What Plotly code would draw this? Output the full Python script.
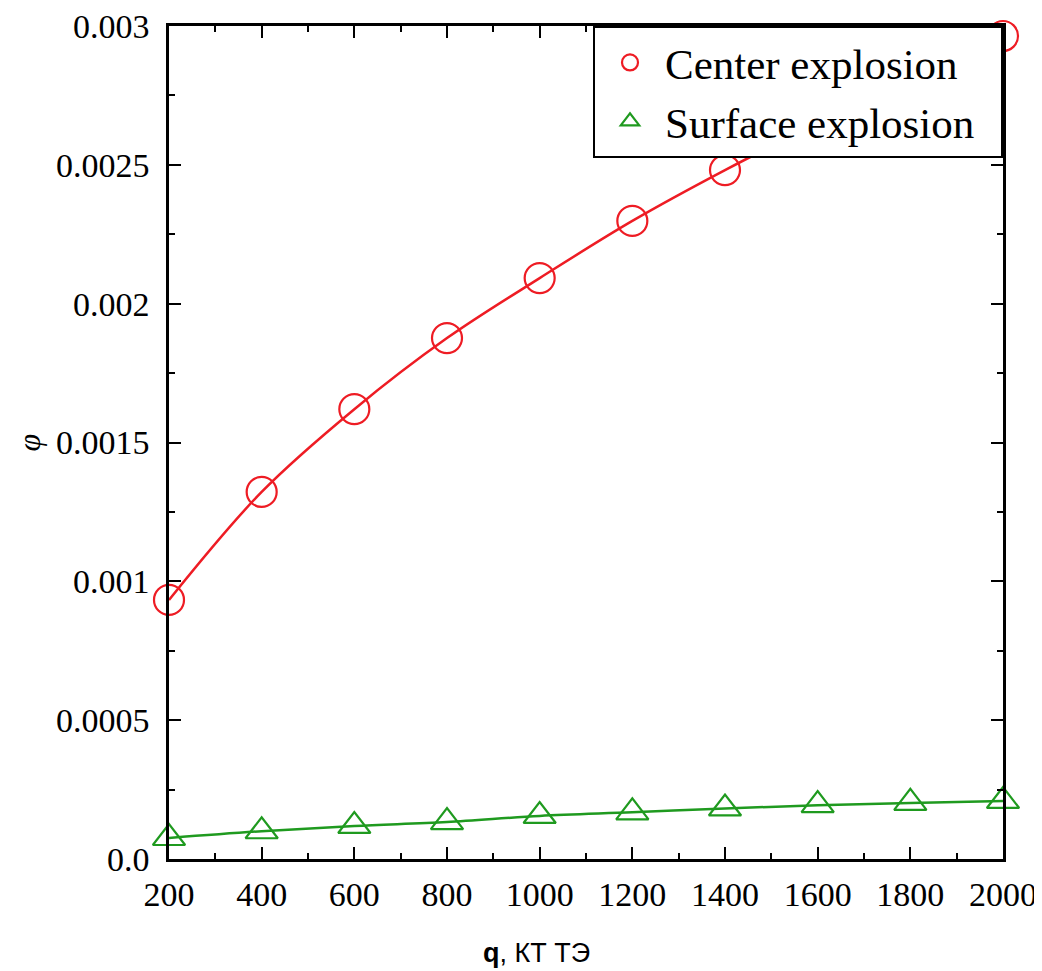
import plotly.graph_objects as go

q = [200, 400, 600, 800, 1000, 1200, 1400, 1600, 1800, 2000]
center = [0.000933, 0.001322, 0.00162, 0.001876, 0.002092, 0.002298, 0.002481, 0.00265, 0.00281, 0.002964]
surface = [0.0000756, 0.0001, 0.000119, 0.000133, 0.000155, 0.000168, 0.000182, 0.000194, 0.000202, 0.000209]

x_ticks = [200, 400, 600, 800, 1000, 1200, 1400, 1600, 1800, 2000]
y_ticks = [0, 0.0005, 0.001, 0.0015, 0.002, 0.0025, 0.003]
y_ticktext = ["0.0", "0.0005", "0.001", "0.0015", "0.002", "0.0025", "0.003"]
series_names = ["Center explosion", "Surface explosion"]

RED = "#ee1c24"
GREEN = "#1f9a1f"
SERIF = "Liberation Serif"

fig = go.Figure()
# smooth lines (no legend entry)
fig.add_trace(go.Scatter(
    x=q, y=center, mode="lines", showlegend=False, hoverinfo="skip",
    line=dict(color=RED, width=2.5, shape="spline"),
))
fig.add_trace(go.Scatter(
    x=q, y=surface, mode="lines", showlegend=False, hoverinfo="skip",
    line=dict(color=GREEN, width=2.5, shape="spline"),
))
# markers (legend entries)
fig.add_trace(go.Scatter(
    x=q, y=center, name=series_names[0], mode="markers",
    marker=dict(symbol="circle-open", size=30, color=RED, line=dict(width=2.2, color=RED)),
    cliponaxis=False,
))
fig.add_trace(go.Scatter(
    x=q, y=surface, name=series_names[1] + "\u00a0\u00a0", mode="markers",
    marker=dict(symbol="triangle-up-open", size=28, color=GREEN, line=dict(width=2.2, color=GREEN)),
    cliponaxis=False,
))

axis_common = dict(
    showline=True, linecolor="black", linewidth=2.5, mirror="ticks",
    ticks="inside", ticklen=12, tickwidth=2, tickcolor="black",
    showgrid=False, zeroline=False, automargin=False,
    ticklabeloverflow="allow",
    tickfont=dict(family=SERIF, size=34, color="black"),
)

fig.update_xaxes(
    range=[200, 2000], tickvals=x_ticks, ticklabelstandoff=3,
    minor=dict(ticks="inside", ticklen=6, tickwidth=2, tickcolor="black", dtick=100, tick0=0, showgrid=False),
    **axis_common,
)
fig.update_yaxes(
    range=[0, 0.003], tickvals=y_ticks, ticktext=y_ticktext, ticklabelstandoff=10,
    minor=dict(ticks="inside", ticklen=6, tickwidth=2, tickcolor="black", dtick=0.00025, tick0=0, showgrid=False),
    **axis_common,
)

fig.add_annotation(
    text="<b>q</b>, КТ ТЭ", xref="paper", yref="paper", x=0.441, y=-0.113,
    xanchor="center", yanchor="middle", showarrow=False,
    font=dict(family="Liberation Sans", size=27, color="black"),
)
fig.add_annotation(
    text="<i>φ</i>", xref="paper", yref="paper", x=-0.168, y=0.5,
    xanchor="center", yanchor="middle", showarrow=False, textangle=-90,
    font=dict(family=SERIF, size=32, color="black"),
)

# The page body has an 8px default margin; compensate so the plot lands where it should.
fig.update_layout(
    width=1034, height=963,
    margin=dict(l=161, r=39, t=18, b=112),
    plot_bgcolor="white", paper_bgcolor="white",
    showlegend=True,
    legend=dict(
        x=1, y=1, xanchor="right", yanchor="top",
        bgcolor="white", bordercolor="black", borderwidth=2,
        font=dict(family=SERIF, size=43, color="black"),
        itemwidth=60,
    ),
)

fig.write_html("out.html")
